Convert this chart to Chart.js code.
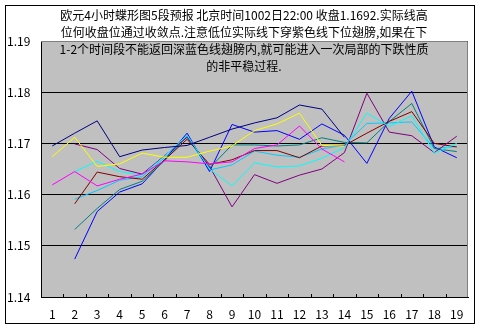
<!DOCTYPE html>
<html><head><meta charset="utf-8">
<script src="https://cdn.jsdelivr.net/npm/chart.js@4/dist/chart.umd.min.js"></script>
<style>html,body{margin:0;padding:0;background:#fff}canvas{display:block}</style>
</head><body>
<canvas id="c" width="483" height="331"></canvas>
<script>
const categories = ['1','2','3','4','5','6','7','8','9','10','11','12','13','14','15','16','17','18','19'];
const yTicks = [1.14, 1.15, 1.16, 1.17, 1.18, 1.19];
const titleLines = [
  '欧元4小时蝶形图5段预报 北京时间1002日22:00 收盘1.1692.实际线高',
  '位何收盘位通过收敛点.注意低位实际线下穿紫色线下位翅膀,如果在下',
  '1-2个时间段不能返回深蓝色线翅膀内,就可能进入一次局部的下跌性质',
  '的非平稳过程.'
];
const navy    = [1.1695,1.1720,1.1744,1.1674,1.1687,1.1692,1.1696,1.1712,1.1728,1.1740,1.1750,1.1775,1.1767,1.1712,null,null,null,null,null];
const magenta = [1.1619,1.1645,1.1617,1.1630,1.1640,1.1666,1.1664,1.1660,1.1664,1.1690,1.1697,1.1734,1.1689,1.1664,null,null,null,null,null];
const yellow  = [1.1674,1.1712,1.1655,1.1660,1.1681,1.1673,1.1673,1.1685,1.1695,1.1725,1.1738,1.1759,1.1696,1.1695,null,null,null,null,null];
const cyan    = [null,1.1645,1.1665,1.1645,1.1638,1.1675,1.1716,1.1650,1.1617,1.1662,1.1654,1.1656,1.1671,1.1692,1.1759,1.1733,1.1754,1.1681,1.1700];
const purple  = [null,1.1699,1.1688,1.1651,1.1640,1.1676,1.1712,1.1655,1.1576,1.1639,1.1622,1.1638,1.1650,1.1682,1.1798,1.1722,1.1715,1.1682,1.1714];
const maroon  = [null,1.1582,1.1644,1.1635,1.1630,1.1668,1.1708,1.1659,1.1668,1.1686,1.1686,1.1672,1.1695,1.1696,1.1720,1.1743,1.1762,1.1700,1.1693];
const teal    = [null,1.1532,1.1573,1.1610,1.1626,1.1666,1.1714,1.1652,1.1697,1.1697,1.1695,1.1697,1.1711,1.1702,1.1701,1.1743,1.1778,1.1690,1.1684];
const blue    = [null,1.1474,1.1567,1.1605,1.1621,1.1668,1.1720,1.1645,1.1737,1.1722,1.1725,1.1708,1.1738,1.1716,1.1661,1.1749,1.1802,1.1693,1.1672];
const sky     = [null,1.1591,1.1608,1.1628,1.1635,1.1672,1.1712,1.1648,1.1658,1.1685,1.1677,1.1673,1.1689,1.1697,1.1739,1.1740,1.1742,1.1690,1.1694];

const FONT = '"Noto Sans CJK SC", "DejaVu Sans", sans-serif';
Chart.defaults.font.family = FONT;
Chart.defaults.font.size = 12;
Chart.defaults.color = '#000';

const series = [
  ['navy', navy, '#000080'],
  ['magenta', magenta, '#FF00FF'],
  ['yellow', yellow, '#FFFF00'],
  ['cyan', cyan, '#00FFFF'],
  ['purple', purple, '#800080'],
  ['maroon', maroon, '#800000'],
  ['teal', teal, '#008080'],
  ['blue', blue, '#0000FF'],
  ['sky', sky, '#00CCFF']
];

const framePlugin = {
  id: 'frame',
  beforeDraw(chart) {
    const {ctx, chartArea: a} = chart;
    ctx.save();
    ctx.fillStyle = '#fff';
    ctx.fillRect(0, 0, chart.width, chart.height);
    ctx.fillStyle = '#C0C0C0';
    ctx.fillRect(a.left, a.top, a.right - a.left, a.bottom - a.top);
    ctx.restore();
  },
  beforeDatasetsDraw(chart) {
    const {ctx, chartArea: a, scales: {x}} = chart;
    ctx.save();
    ctx.strokeStyle = '#808080';
    ctx.lineWidth = 1;
    ctx.beginPath();
    ctx.moveTo(a.left, Math.round(a.top) + 0.5);
    ctx.lineTo(Math.round(a.right) - 0.5, Math.round(a.top) + 0.5);
    ctx.lineTo(Math.round(a.right) - 0.5, a.bottom);
    ctx.stroke();
    // inward tick marks at category boundaries
    const step = x.getPixelForValue(1) - x.getPixelForValue(0);
    ctx.strokeStyle = '#000';
    ctx.beginPath();
    for (let i = 1; i < categories.length; i++) {
      const px = Math.round(x.getPixelForValue(i) - step / 2) + 0.5;
      ctx.moveTo(px, a.bottom);
      ctx.lineTo(px, a.bottom - 3);
    }
    ctx.stroke();
    ctx.restore();
  },
  afterDraw(chart) {
    const {ctx} = chart;
    ctx.save();
    ctx.strokeStyle = '#000';
    ctx.lineWidth = 1;
    ctx.strokeRect(5.5, 5.5, 469, 318);
    ctx.fillStyle = '#000';
    ctx.font = '12px ' + FONT;
    ctx.textAlign = 'center';
    ctx.textBaseline = 'middle';
    const ys = [15, 32, 49, 66];
    titleLines.forEach((t, i) => ctx.fillText(t, 244, ys[i]));
    ctx.restore();
  }
};

new Chart(document.getElementById('c'), {
  type: 'line',
  data: {
    labels: categories,
    datasets: series.map(([name, d, c]) => ({
      label: name, data: d, borderColor: c, backgroundColor: c,
      borderWidth: 1, pointRadius: 0, tension: 0, fill: false
    }))
  },
  options: {
    responsive: false,
    animation: false,
    devicePixelRatio: 1,
    layout: {padding: {left: 7, top: 41, right: 15, bottom: 0}},
    plugins: {legend: {display: false}, title: {display: false}, tooltip: {enabled: false}},
    scales: {
      x: {
        type: 'category', offset: true,
        grid: {display: false, drawTicks: false},
        border: {display: true, color: '#000', width: 1},
        ticks: {color: '#000', padding: 10, maxRotation: 0, autoSkip: false},
        afterFit(s) { s.height = 34; }
      },
      y: {
        min: yTicks[0], max: yTicks[yTicks.length - 1],
        grid: {color: '#000', lineWidth: 1, drawTicks: false},
        border: {display: true, color: '#000', width: 1},
        ticks: {stepSize: 0.01, crossAlign: 'far', padding: 0, color: '#000',
                callback: v => Number(v).toFixed(2)},
        afterBuildTicks(s) { s.ticks = yTicks.map(v => ({value: v})); },
        afterFit(s) { s.width = 34; }
      }
    }
  },
  plugins: [framePlugin]
});
</script>
</body></html>
